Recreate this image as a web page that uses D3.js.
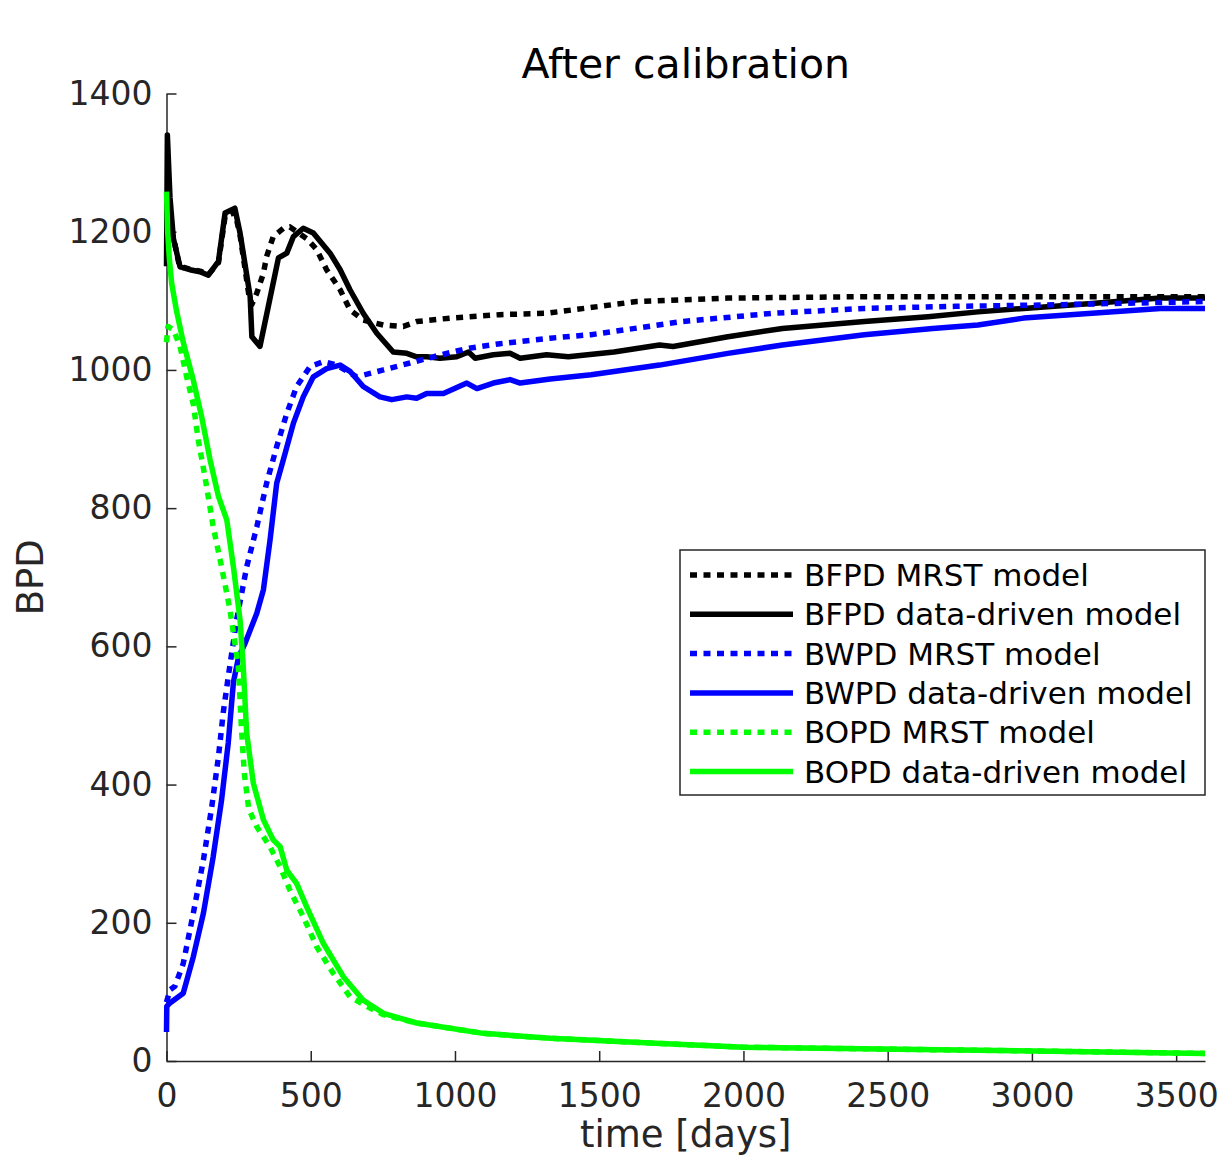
<!DOCTYPE html>
<html>
<head>
<meta charset="utf-8">
<script src="https://cdn.jsdelivr.net/npm/d3@7"></script>
<style>
  body { margin: 0; background: #fff; }
  svg { display: block; font-family: "DejaVu Sans", sans-serif; }
</style>
</head>
<body>
<svg id="chart" width="1231" height="1157"></svg>
<script>
// After calibration: MRST vs data-driven rates, [days, BPD] pairs

const bfpdMrst = [
    [0, 1220], [25, 1190], [45, 1150], [80, 1146], [116, 1143], [145, 1138], [180, 1155],
    [203, 1222], [237, 1228], [255, 1195], [285, 1110], [296, 1095], [313, 1111], [336, 1140],
    [347, 1164], [370, 1193], [405, 1205], [428, 1207], [486, 1190], [521, 1174], [555, 1145],
    [602, 1116], [636, 1087], [682, 1072], [752, 1065], [821, 1063], [867, 1070], [983, 1075],
    [1156, 1080], [1318, 1082], [1630, 1099], [1946, 1104], [2419, 1106], [3600, 1106]
];

const bfpdData = [
    [0, 1150], [3, 1340], [12, 1250], [24, 1190], [47, 1149], [81, 1145], [116, 1142],
    [145, 1137], [180, 1157], [203, 1227], [237, 1234], [255, 1198], [290, 1106], [296, 1048],
    [324, 1034], [353, 1092], [388, 1162], [417, 1169], [440, 1193], [474, 1205], [509, 1198],
    [567, 1169], [602, 1145], [636, 1116], [682, 1082], [729, 1053], [786, 1026], [833, 1024],
    [867, 1019], [902, 1019], [948, 1017], [1006, 1019], [1047, 1026], [1070, 1017], [1133, 1022],
    [1191, 1024], [1226, 1017], [1318, 1022], [1393, 1019], [1551, 1026], [1709, 1036],
    [1756, 1034], [1946, 1048], [2135, 1060], [2419, 1070], [2640, 1077], [2813, 1084],
    [2971, 1089], [3208, 1096], [3445, 1104], [3600, 1104]
];

const bwpdMrst = [
    [0, 85], [12, 103], [29, 108], [58, 141], [93, 214], [128, 291], [157, 368], [180, 440],
    [197, 505], [214, 556], [243, 638], [278, 715], [313, 773], [347, 836], [382, 889],
    [417, 937], [451, 976], [498, 1005], [544, 1012], [590, 1007], [659, 990], [752, 1000],
    [844, 1010], [925, 1019], [1041, 1031], [1156, 1038], [1330, 1046], [1472, 1051],
    [1787, 1070], [2103, 1082], [2419, 1089], [2735, 1092], [3050, 1094], [3600, 1099]
];

const bwpdData = [
    [0, 42], [1, 79], [12, 84], [58, 98], [93, 151], [128, 214], [162, 296], [191, 378],
    [214, 460], [232, 548], [250, 585], [272, 604], [313, 648], [336, 682], [359, 754],
    [382, 836], [405, 870], [440, 923], [474, 961], [509, 990], [555, 1002], [602, 1007],
    [636, 998], [682, 976], [740, 961], [781, 957], [833, 961], [867, 959], [902, 966],
    [960, 966], [1041, 981], [1076, 973], [1133, 981], [1191, 986], [1226, 981], [1330, 987],
    [1472, 993], [1709, 1007], [1946, 1024], [2135, 1036], [2419, 1051], [2656, 1060],
    [2813, 1065], [2971, 1075], [3208, 1082], [3445, 1089], [3600, 1089]
];

const bopdMrst = [
    [0, 1040], [5, 1063], [24, 1058], [47, 1034], [70, 990], [93, 950], [110, 899], [133, 846],
    [162, 773], [191, 715], [220, 653], [249, 571], [260, 480], [270, 415], [285, 365],
    [313, 339], [359, 310], [394, 281], [428, 247], [474, 209], [521, 165], [578, 127],
    [636, 93], [694, 79], [752, 67], [867, 55], [1098, 40], [1330, 33], [1677, 26],
    [2000, 20], [2543, 17], [3006, 14.5], [3600, 11]
];

const bopdData = [
    [0, 1258], [4, 1200], [10, 1160], [18, 1125], [35, 1085], [58, 1040], [93, 985],
    [122, 932], [151, 870], [180, 817], [209, 783], [232, 715], [255, 638], [266, 571],
    [278, 474], [301, 402], [336, 349], [370, 320], [394, 310], [417, 276], [451, 257],
    [486, 223], [544, 170], [613, 122], [682, 88], [752, 69], [867, 55], [1098, 40],
    [1330, 33], [1677, 26], [2000, 20], [2543, 17], [3006, 14.5], [3600, 11]
];

const xTicks = [0, 500, 1000, 1500, 2000, 2500, 3000, 3500];
const yTicks = [0, 200, 400, 600, 800, 1000, 1200, 1400];

// plot order = legend order, last one ends up on top
const series = [
    { name: 'BFPD MRST model', data: bfpdMrst, color: '#000000', dotted: true },
    { name: 'BFPD data-driven model', data: bfpdData, color: '#000000', dotted: false },
    { name: 'BWPD MRST model', data: bwpdMrst, color: '#0000ff', dotted: true },
    { name: 'BWPD data-driven model', data: bwpdData, color: '#0000ff', dotted: false },
    { name: 'BOPD MRST model', data: bopdMrst, color: '#00ff00', dotted: true },
    { name: 'BOPD data-driven model', data: bopdData, color: '#00ff00', dotted: false }
];

const svg = d3.select('#chart');
const axisColor = '#262626';
const lineWidth = 5.5;
const dots = '7,6.5';

const x = d3.scaleLinear().domain([0, 3600]).range([166.5, 1205]);
const y = d3.scaleLinear().domain([0, 1400]).range([1061, 93.5]);

// Axes (MATLAB style: box off, ticks pointing in)
const xAxis = svg.append('g')
    .attr('transform', `translate(0, ${y(0)})`)
    .call(d3.axisBottom(x).tickValues(xTicks).tickFormat(d3.format('d'))
        .tickSizeInner(-10).tickSizeOuter(0).tickPadding(23));

const yAxis = svg.append('g')
    .attr('transform', `translate(${x(0)}, 0)`)
    .call(d3.axisLeft(y).tickValues(yTicks).tickFormat(d3.format('d'))
        .tickSizeInner(-10).tickSizeOuter(0).tickPadding(14));

[xAxis, yAxis].forEach(ax => {
    ax.select('.domain').attr('stroke', axisColor).attr('stroke-width', 1.5);
    ax.selectAll('.tick line').attr('stroke', axisColor).attr('stroke-width', 1.5);
    ax.selectAll('.tick text')
        .attr('fill', axisColor)
        .style('font-family', '"DejaVu Sans", sans-serif')
        .style('font-size', '33px');
});

// Lines
const line = d3.line()
    .x(d => x(d[0]))
    .y(d => y(d[1]));

svg.append('g')
    .selectAll('path')
    .data(series)
    .enter()
    .append('path')
    .attr('d', d => line(d.data))
    .attr('fill', 'none')
    .attr('stroke', d => d.color)
    .attr('stroke-width', lineWidth)
    .attr('stroke-linejoin', 'round')
    .attr('stroke-dasharray', d => d.dotted ? dots : null);

// Title and axis labels
svg.append('text')
    .attr('x', (x(0) + x(3600)) / 2)
    .attr('y', 78)
    .attr('text-anchor', 'middle')
    .attr('fill', '#000')
    .style('font-size', '41px')
    .text('After calibration');

svg.append('text')
    .attr('transform', `translate(43, ${(y(0) + y(1400)) / 2}) rotate(-90)`)
    .attr('text-anchor', 'middle')
    .attr('fill', axisColor)
    .style('font-size', '37px')
    .text('BPD');

svg.append('text')
    .attr('x', (x(0) + x(3600)) / 2)
    .attr('y', 1147)
    .attr('text-anchor', 'middle')
    .attr('fill', axisColor)
    .style('font-size', '37px')
    .text('time [days]');

// Legend
const legend = svg.append('g').attr('transform', 'translate(680, 550)');

legend.append('rect')
    .attr('width', 525)
    .attr('height', 245)
    .attr('fill', '#fff')
    .attr('stroke', axisColor)
    .attr('stroke-width', 1.5);

const items = legend.selectAll('.legend-item')
    .data(series)
    .enter()
    .append('g')
    .attr('transform', (d, i) => `translate(0, ${25 + i * 39.3})`);

items.append('line')
    .attr('x1', 10)
    .attr('x2', 113)
    .attr('stroke', d => d.color)
    .attr('stroke-width', lineWidth)
    .attr('stroke-dasharray', d => d.dotted ? dots : null);

items.append('text')
    .attr('x', 124)
    .attr('dy', '0.36em')
    .attr('fill', '#000')
    .style('font-size', '31px')
    .text(d => d.name);
</script>
</body>
</html>
